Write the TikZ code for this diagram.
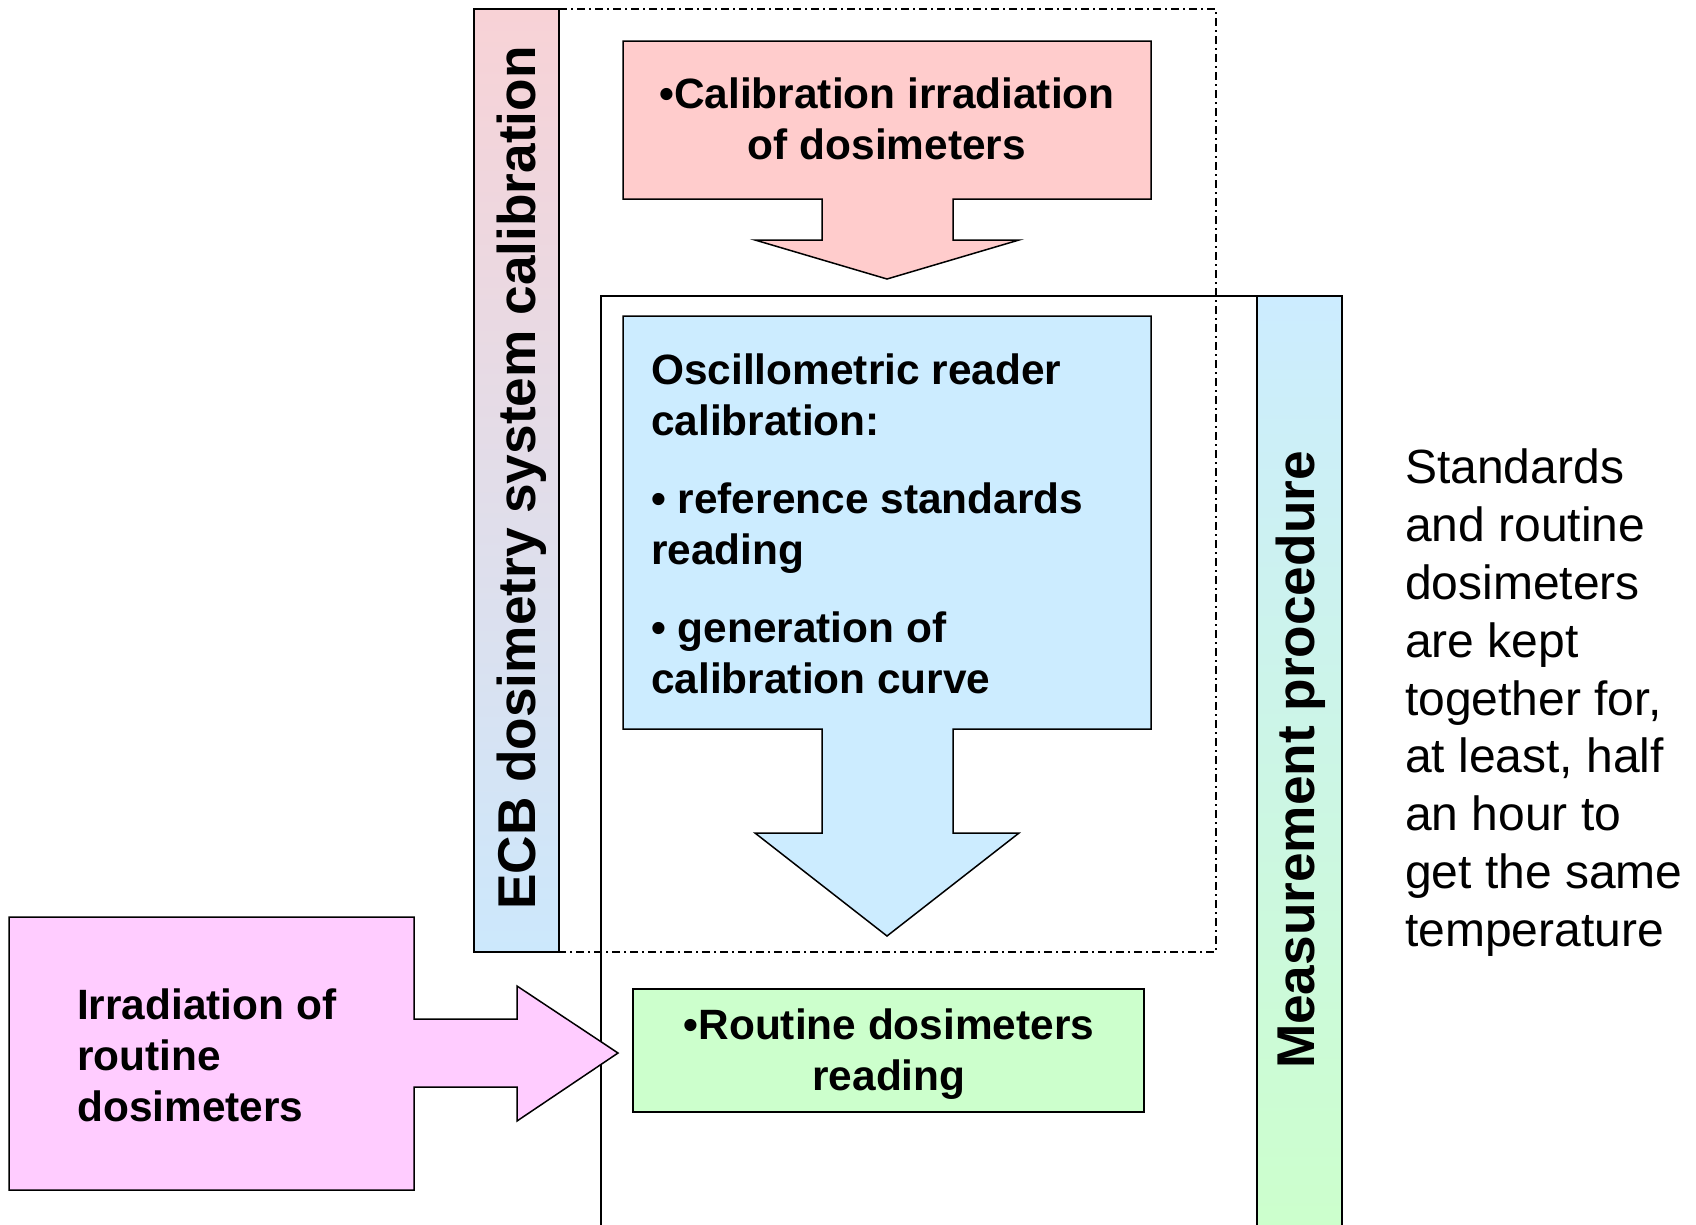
\documentclass[tikz,border=0pt]{standalone}
\usepackage{fontspec}
\setmainfont{Liberation Sans}
\definecolor{redfill}{HTML}{FFCCCC}
\definecolor{bluefill}{HTML}{CCECFF}
\definecolor{greenfill}{HTML}{CCFFCC}
\definecolor{pinkfill}{HTML}{FFCCFF}
\definecolor{ecbtop}{HTML}{F8D2D6}
\definecolor{ecbbot}{HTML}{CCE8FC}
\begin{document}
\begin{tikzpicture}[x=1pt,y=-1pt,
  shapeline/.style={draw=black, line width=1.5pt, line join=miter},
  dashdot/.style={draw=black, line width=1.8pt, dash pattern=on 8pt off 4pt on 2pt off 4pt},
  boldtxt/.style={font=\fontsize{42.4}{51}\selectfont\bfseries, inner sep=0pt},
  bartxt/.style={font=\fontsize{53.2}{60}\selectfont\bfseries, inner sep=0pt, rotate=90},
  plaintxt/.style={font=\fontsize{48}{57.8}\selectfont, inner sep=0pt, align=left}
]
\useasboundingbox (0,0) rectangle (1696,1224);
\fill[white] (0,0) rectangle (1696,1224);

% ECB bar and dash-dot frame
\path[shapeline, top color=ecbtop, bottom color=ecbbot] (474,9) rectangle (559,952);
\path[dashdot] (559,9) -- (1216,9) -- (1216,952) -- (559,952);

% measurement frame and bar
\path[shapeline, line width=1.3pt] (601,296) rectangle (1257,1230);
\path[shapeline, top color=bluefill, bottom color=greenfill] (1257,296) rectangle (1342,1230);

% red arrow box
\path[shapeline, fill=redfill] (623,41) -- (1151,41) -- (1151,199) -- (953,199) -- (953,240)
  -- (1019,240) -- (887,279) -- (755,240) -- (822,240) -- (822,199) -- (623,199) -- cycle;
% blue arrow box
\path[shapeline, fill=bluefill] (623,316) -- (1151,316) -- (1151,729) -- (953,729) -- (953,833)
  -- (1019,833) -- (887,936) -- (755,833) -- (822,833) -- (822,729) -- (623,729) -- cycle;
% green box
\path[shapeline, fill=greenfill] (633,989) rectangle (1144,1112);
% pink arrow box
\path[shapeline, fill=pinkfill] (9,917) -- (414,917) -- (414,1019) -- (517,1019) -- (517,986)
  -- (618,1053) -- (517,1121) -- (517,1087) -- (414,1087) -- (414,1190) -- (9,1190) -- cycle;

% texts
\node[bartxt] (ecb) at (522,478) {ECB dosimetry system calibration};
\node[bartxt] (meas) at (1301,760) {Measurement procedure};
\node[boldtxt, align=center] (calirr) at (887,119) {•Calibration irradiation\\of dosimeters};
\node[boldtxt, align=left, anchor=north west] (osc) at (651,354)
  {Oscillometric reader\\calibration:\\[27pt]• reference standards\\reading\\[27pt]• generation of\\calibration curve};
\node[boldtxt, align=center] (routine) at (889,1054) {•Routine dosimeters\\reading};
\node[boldtxt, align=left, anchor=west] (irr) at (77,1055) {Irradiation of\\routine\\dosimeters};
\node[plaintxt, anchor=north west] (note) at (1405,449)
  {Standards\\and routine\\dosimeters\\are kept\\together for,\\at least, half\\an hour to\\get the same\\temperature};
\end{tikzpicture}
\end{document}
